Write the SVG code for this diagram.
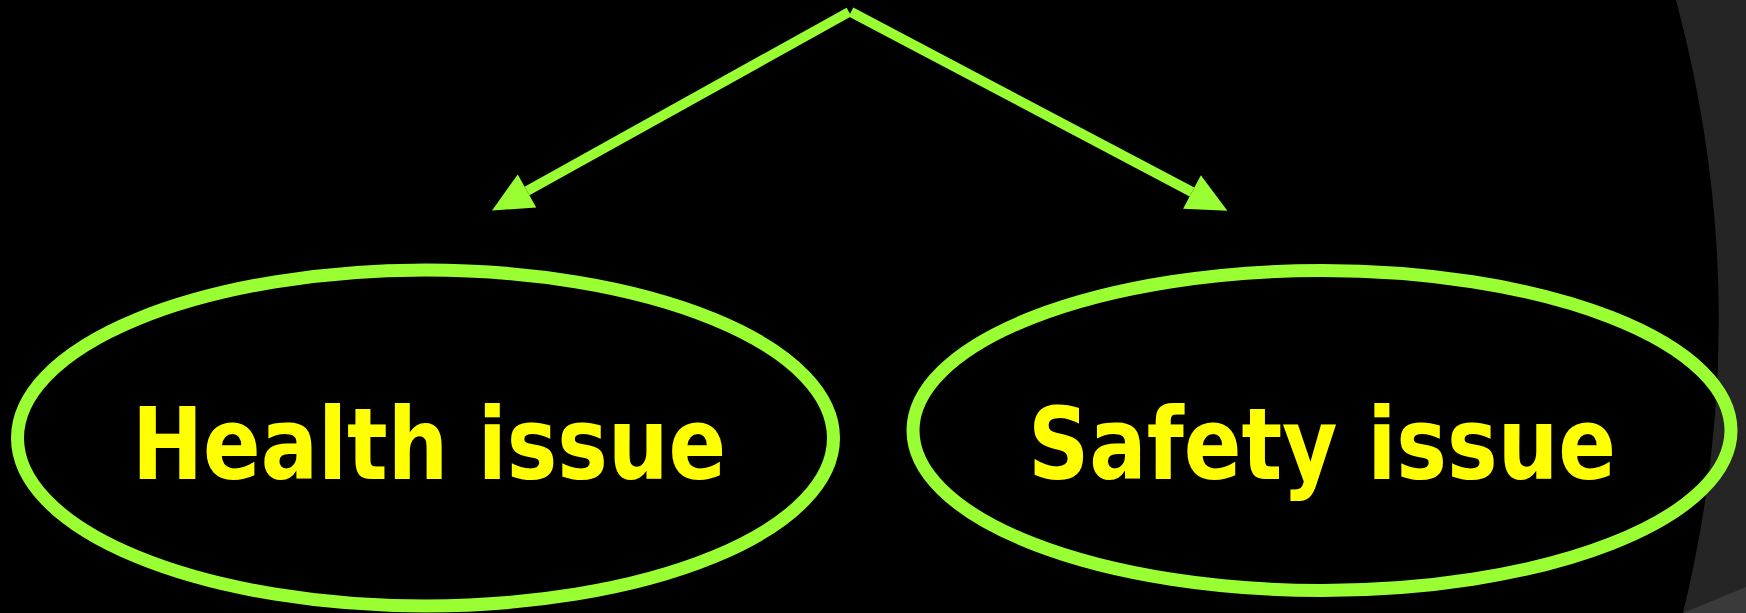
<svg xmlns="http://www.w3.org/2000/svg" width="1746" height="613" viewBox="0 0 1746 613">
<style>
.conn{stroke:#99ff33;stroke-width:10;fill:none;marker-end:url(#ah)}
.node{fill:none;stroke:#99ff33;stroke-width:13}
.label{font-family:"DejaVu Sans Condensed","DejaVu Sans","Liberation Sans",sans-serif;font-weight:bold;font-size:100px;fill:#ffff00;text-anchor:middle}
</style>
<defs>
<marker id="ah" markerUnits="userSpaceOnUse" markerWidth="40" markerHeight="38" viewBox="0 -19 40 38" refX="0" refY="0" orient="auto" overflow="visible">
<path d="M0,-19 L40,0 L0,19 Z" fill="#99ff33"/>
</marker>
</defs>
<rect width="1746" height="613" fill="#000"/>
<path d="M1676,0 Q1758,306 1683,613 L1746,613 L1746,0 Z" fill="#252525"/>
<path d="M1683,613 L1746,587 L1746,613 Z" fill="#3a3a3a"/>
<g id="connectors">
<line class="conn" x1="849" y1="12" x2="527" y2="191"/>
<line class="conn" x1="851" y1="12" x2="1192" y2="192"/>
</g>
<g id="health">
<ellipse class="node" cx="425.5" cy="438" rx="408" ry="168"/>
<text class="label" x="429" y="479" textLength="594" lengthAdjust="spacingAndGlyphs">Health issue</text>
</g>
<g id="safety">
<ellipse class="node" cx="1322" cy="430.5" rx="409" ry="160"/>
<text class="label" x="1322" y="479" textLength="588" lengthAdjust="spacingAndGlyphs">Safety issue</text>
</g>
</svg>
